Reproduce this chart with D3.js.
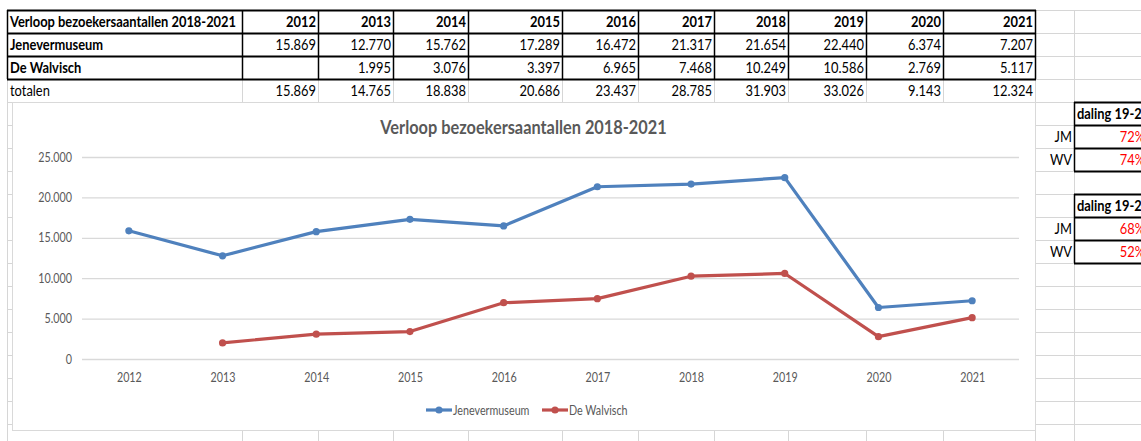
<!DOCTYPE html>
<html>
<head>
<meta charset="utf-8">
<script src="https://cdn.jsdelivr.net/npm/d3@7"></script>
<style>
  html, body { margin: 0; padding: 0; background: #fff; }
  svg { display: block; }
  text { font-family: Lato, "Noto Sans", sans-serif; }
</style>
</head>
<body>
<div id="sheet"></div>
<script>
// data
const years = ["2012","2013","2014","2015","2016","2017","2018","2019","2020","2021"];
const jenever = [15869, 12770, 15762, 17289, 16472, 21317, 21654, 22440, 6374, 7207];
const walvisch = [null, 1995, 3076, 3397, 6965, 7468, 10249, 10586, 2769, 5117];
const totalen = [15869, 14765, 18838, 20686, 23437, 28785, 31903, 33026, 9143, 12324];
const seriesNames = ["Jenevermuseum", "De Walvisch"];
const yTicks = [0, 5000, 10000, 15000, 20000, 25000];
const daling1920 = [["JM", "72%"], ["WV", "74%"]];
const daling1921 = [["JM", "68%"], ["WV", "52%"]];
const tableTitle = "Verloop bezoekersaantallen 2018-2021";
const chartTitle = "Verloop bezoekersaantallen 2018-2021";

// layout van het werkblad
const W = 1141, H = 441;
const colEdges = [7, 242, 318, 393, 468, 562, 638, 714, 788, 866, 943, 1035, 1074, 1147];
const rowTop = 10, rowH = 23;
const colors = ["#4f81bd", "#c0504d"];
const SX = 0.86; // Calibri is smaller dan Lato, dus tekst iets smaller maken
const fmt = v => v == null ? "" : d3.format(",")(v).replace(/,/g, ".");

// tekst horizontaal smaller maken rond zijn ankerpunt
function squeeze(sel, sx = SX) {
  sel.each(function () {
    const t = d3.select(this);
    const x0 = +t.attr("x") || 0, y0 = +t.attr("y") || 0;
    const prev = t.attr("transform") || "";
    t.attr("x", 0).attr("y", 0)
      .attr("transform", `${prev} translate(${x0},${y0}) scale(${sx},1)`);
  });
}

const svg = d3.select("#sheet").append("svg")
  .attr("width", W).attr("height", H);

// grijze rasterlijnen van excel
const gridG = svg.append("g").attr("stroke", "#d6d6d6").attr("stroke-width", 1);
gridG.selectAll("line.v")
  .data(colEdges)
  .enter().append("line")
    .attr("x1", d => d + 0.5).attr("x2", d => d + 0.5)
    .attr("y1", rowTop).attr("y2", H);
gridG.selectAll("line.h")
  .data(d3.range(0, 19))
  .enter().append("line")
    .attr("x1", colEdges[0]).attr("x2", W)
    .attr("y1", d => rowTop + d * rowH + 0.5).attr("y2", d => rowTop + d * rowH + 0.5);

// tabel
const rows = [
  { label: tableTitle, vals: years, bold: true, border: true },
  { label: seriesNames[0], vals: jenever.map(fmt), bold: true, border: true },
  { label: seriesNames[1], vals: walvisch.map(fmt), bold: true, border: true },
  { label: "totalen", vals: totalen.map(fmt), bold: false, border: false }
];

const tbl = svg.append("g");
rows.forEach((r, i) => {
  const y0 = rowTop + i * rowH;
  const g = tbl.append("g");
  g.append("rect")
    .attr("x", colEdges[0]).attr("y", y0)
    .attr("width", colEdges[11] - colEdges[0]).attr("height", rowH)
    .attr("fill", "#fff");
  if (!r.border) {
    g.selectAll("line")
      .data(colEdges.slice(0, 12))
      .enter().append("line")
        .attr("x1", d => d + 0.5).attr("x2", d => d + 0.5)
        .attr("y1", y0).attr("y2", y0 + rowH)
        .attr("stroke", "#d6d6d6");
  }
  g.append("text")
    .attr("x", colEdges[0] + 3).attr("y", y0 + rowH / 2 + 5)
    .style("font-size", "15px")
    .style("font-weight", r.bold ? "bold" : "normal")
    .attr("fill", "#000")
    .text(r.label)
    .call(squeeze);
  g.selectAll("text.v")
    .data(r.vals)
    .enter().append("text")
      .attr("x", (d, j) => colEdges[j + 2] - 2)
      .attr("y", y0 + rowH / 2 + 5)
      .attr("text-anchor", "end")
      .style("font-size", "15px")
      .style("font-weight", i === 0 ? "bold" : "normal")
      .attr("fill", "#000")
      .text(d => d)
      .call(squeeze);
});
// zwarte randen rond de eerste drie rijen
const bord = tbl.append("g").attr("stroke", "#000").attr("fill", "none");
d3.range(0, 4).forEach(k => {
  bord.append("line")
    .attr("x1", colEdges[0]).attr("x2", colEdges[11] + 1)
    .attr("y1", rowTop + k * rowH + 0.5).attr("y2", rowTop + k * rowH + 0.5)
    .attr("stroke-width", 2);
});
bord.selectAll("line.cv")
  .data(colEdges.slice(0, 12))
  .enter().append("line")
    .attr("x1", d => d + 0.5).attr("x2", d => d + 0.5)
    .attr("y1", rowTop).attr("y2", rowTop + 3 * rowH)
    .attr("stroke-width", 1.5);

// daling tabellen rechts
function dalingTable(title, rowsD, topRow) {
  const g = svg.append("g");
  const x0 = colEdges[12], x1 = colEdges[13];
  const y0 = rowTop + topRow * rowH;
  g.append("rect").attr("x", x0).attr("y", y0)
    .attr("width", x1 - x0).attr("height", rowH * 3)
    .attr("fill", "#fff");
  g.append("text")
    .attr("x", x0 + 3).attr("y", y0 + rowH / 2 + 5)
    .style("font-size", "15px").style("font-weight", "bold")
    .text(title)
    .call(squeeze);
  rowsD.forEach(([lab, val], i) => {
    const yy = y0 + (i + 1) * rowH + rowH / 2 + 5;
    g.append("text")
      .attr("x", x0 - 2).attr("y", yy)
      .attr("text-anchor", "end").style("font-size", "15px")
      .text(lab)
      .call(squeeze);
    g.append("text")
      .attr("x", x1 - 2).attr("y", yy)
      .attr("text-anchor", "end").style("font-size", "15px")
      .attr("fill", "#ff0000")
      .text(val)
      .call(squeeze);
  });
  d3.range(0, 4).forEach(k => {
    g.append("line")
      .attr("x1", x0).attr("x2", x1)
      .attr("y1", y0 + k * rowH + 0.5).attr("y2", y0 + k * rowH + 0.5)
      .attr("stroke", "#000").attr("stroke-width", 2);
  });
  g.append("line")
    .attr("x1", x0 + 0.5).attr("x2", x0 + 0.5)
    .attr("y1", y0).attr("y2", y0 + 3 * rowH)
    .attr("stroke", "#000").attr("stroke-width", 1.5);
}
dalingTable("daling 19-20", daling1920, 4);
dalingTable("daling 19-21", daling1921, 8);

// ===== grafiek =====
const box = { x: 12, y: 102, w: 1023, h: 328 };
const chart = svg.append("g");
chart.append("rect")
  .attr("x", box.x + 0.5).attr("y", box.y + 0.5)
  .attr("width", box.w).attr("height", box.h)
  .attr("fill", "#fff").attr("stroke", "#d9d9d9");

chart.append("text")
  .attr("x", box.x + box.w / 2).attr("y", 134)
  .attr("text-anchor", "middle")
  .style("font-size", "19px").style("font-weight", "bold")
  .attr("fill", "#595959")
  .text(chartTitle)
  .call(squeeze);

const x = d3.scalePoint().domain(years).range([82, 1019]).padding(0.5);
const y = d3.scaleLinear().domain([0, 25000]).range([359, 157]);

// horizontale rasterlijnen + y-labels
chart.append("g")
  .attr("transform", "translate(82,0)")
  .call(d3.axisLeft(y).tickValues(yTicks).tickSize(-(1019 - 82)).tickPadding(10)
    .tickFormat(fmt))
  .call(g => g.select(".domain").remove())
  .call(g => g.selectAll(".tick line").attr("stroke", "#d9d9d9").attr("stroke-width", 1.3))
  .call(g => g.selectAll(".tick text").attr("fill", "#595959")
    .style("font-size", "12.5px").style("font-family", null)
    .attr("dy", null).attr("y", 4).call(squeeze));

// x-labels
chart.append("g")
  .attr("transform", "translate(0,359)")
  .call(d3.axisBottom(x).tickSize(0).tickPadding(14))
  .call(g => g.select(".domain").remove())
  .call(g => g.selectAll(".tick text").attr("fill", "#595959")
    .style("font-size", "12.5px").style("font-family", null)
    .attr("dy", null).attr("y", 23).call(squeeze));

const series = [jenever, walvisch];
const line = d3.line()
  .defined(d => d.v != null)
  .x(d => x(d.year)).y(d => y(d.v));

series.forEach((vals, si) => {
  const pts = years.map((yr, i) => ({ year: yr, v: vals[i] }));
  chart.append("path")
    .datum(pts)
    .attr("d", line)
    .attr("fill", "none")
    .attr("stroke", colors[si])
    .attr("stroke-width", 3.2)
    .attr("stroke-linejoin", "round");
  chart.selectAll(null)
    .data(pts.filter(d => d.v != null))
    .enter().append("circle")
      .attr("cx", d => x(d.year)).attr("cy", d => y(d.v))
      .attr("r", 3.6)
      .attr("fill", colors[si]);
});

// legenda
const legendX = [426, 542];
seriesNames.forEach((name, i) => {
  const lg = chart.append("g").attr("transform", `translate(${legendX[i]},410)`);
  lg.append("line").attr("x1", 0).attr("x2", 26)
    .attr("stroke", colors[i]).attr("stroke-width", 3.2);
  lg.append("circle").attr("cx", 13).attr("r", 3.6).attr("fill", colors[i]);
  lg.append("text").attr("x", 27).attr("y", 4.5)
    .style("font-size", "12.5px").attr("fill", "#595959")
    .text(name)
    .call(squeeze);
});
</script>
</body>
</html>
